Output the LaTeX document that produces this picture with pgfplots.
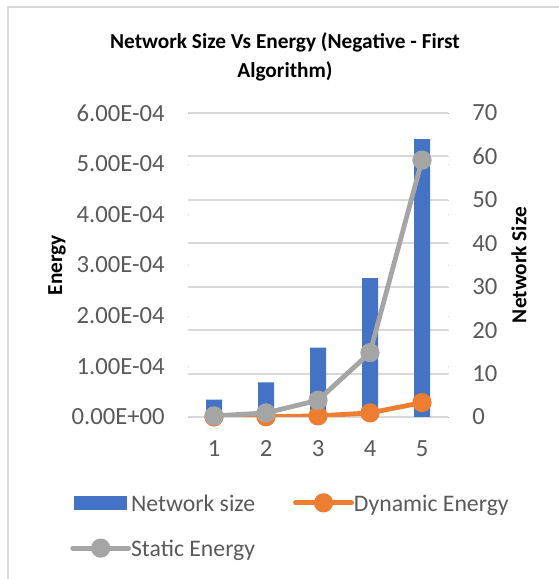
\documentclass[border=0pt]{standalone}
\usepackage{pgfplots}
\pgfplotsset{compat=1.18}
\usepackage{fontspec}
\setmainfont{Carlito}

\definecolor{barblue}{HTML}{4472C4}
\definecolor{dynorange}{HTML}{ED7D31}
\definecolor{statgray}{HTML}{A5A5A5}
\definecolor{textgray}{HTML}{595959}
\definecolor{gridgray}{HTML}{D9D9D9}

\pgfplotsset{
  plotbox/.style={
    at={(141pt,121.5pt)}, anchor=south west, scale only axis,
    width=195pt, height=228pt,
    xmin=0.5, xmax=5.5,
    tick align=inside, major tick length=0.01pt,
    /pgf/number format/assume math mode=true,
    tick label style={font=\fontsize{18.5pt}{22pt}\selectfont, text=textgray, inner sep=0pt},
  },
}

\begin{document}
\begin{tikzpicture}
\useasboundingbox (0,0) rectangle (418.5pt,434.25pt);
% chart area frame
\draw[gridgray, line width=1.5pt] (6pt,-5pt) -- (6pt,429pt) -- (425pt,429pt);

% network size bars on the secondary (right) axis; it also carries the gridlines
\begin{axis}[
  plotbox,
  ymin=0, ymax=70,
  x axis line style={draw=none}, y axis line style={draw=none},
  yticklabel pos=right,
  xtick={1,2,3,4,5}, ytick={0,10,20,30,40,50,60,70},
  yticklabel style={anchor=west, xshift=18pt},
  xticklabel style={anchor=north, yshift=-17.25pt},
  ylabel={Network Size},
  every axis y label/.style={at={(axis description cs:1.273,0.5)}, anchor=center, rotate=90,
    font=\bfseries\fontsize{16pt}{19pt}\selectfont},
  clip=false,
]
% horizontal gridlines, beneath the bars
\pgfplotsinvokeforeach{0,10,20,30,40,50,60,70}{
  \draw[draw=gridgray, line width=1.5pt] (axis cs:0.5,#1) -- (axis cs:5.5,#1);
}
\addplot[ybar, bar width=12pt, fill=barblue, draw=none]
  coordinates {(1,4) (2,8) (3,16) (4,32) (5,64)};
\end{axis}

% energy lines on the primary (left) axis
\begin{axis}[
  plotbox,
  ymin=0, ymax=0.0006,
  x axis line style={draw=none}, y axis line style={draw=none},
  yticklabel pos=left,
  xtick=\empty,
  ytick={0,0.0001,0.0002,0.0003,0.0004,0.0005,0.0006},
  yticklabels={0.00E+00,1.00E-04,2.00E-04,3.00E-04,4.00E-04,5.00E-04,6.00E-04},
  scaled y ticks=false,
  yticklabel style={anchor=east, xshift=-17.25pt},
  ylabel={Energy},
  every axis y label/.style={at={(axis description cs:-0.504,0.5)}, anchor=center, rotate=90,
    font=\bfseries\fontsize{16pt}{19pt}\selectfont},
  title={Network Size Vs Energy (Negative - First\\Algorithm)},
  title style={at={(axis description cs:0.373,1.158)}, anchor=center, align=center,
    font=\bfseries\fontsize{16pt}{21.2pt}\selectfont},
  legend columns=2,
  legend cell align=left,
  legend style={at={(axis description cs:-0.4538,-0.25)}, anchor=north west,
    draw=none, fill=none, inner sep=0pt, nodes={inner sep=0pt},
    font=\fontsize{17.8pt}{21pt}\selectfont, text=textgray,
    /tikz/every odd column/.append style={column sep=0pt},
    /tikz/every even column/.append style={column sep=28.5pt},
    row sep=19pt},
]
\addlegendimage{legend image code/.code={\fill[barblue] (1.5pt,-3.7pt) rectangle (40.5pt,6.1pt);}}
\addlegendentry{Network size}
\addplot[dynorange, line width=3.6pt, line join=round, line cap=round,
  mark=*, mark size=5.4pt, mark options={fill=dynorange, draw=none},
  legend image code/.code={\draw[dynorange, line width=3.6pt, line cap=round] (0pt,0.8pt) -- (42pt,0.8pt);
    \fill[dynorange] (21pt,0.8pt) circle (5.4pt);}]
  coordinates {(1,1e-7) (2,5e-7) (3,2.2e-6) (4,8e-6) (5,2.85e-5)};
\addlegendentry{Dynamic Energy}
\addplot[statgray, line width=3.6pt, line join=round, line cap=round,
  mark=*, mark size=5.4pt, mark options={fill=statgray, draw=none},
  legend image code/.code={\draw[statgray, line width=3.6pt, line cap=round] (0pt,0.8pt) -- (42pt,0.8pt);
    \fill[statgray] (21pt,0.8pt) circle (5.4pt);}]
  coordinates {(1,2.2e-6) (2,8e-6) (3,3.3e-5) (4,1.27e-4) (5,5.07e-4)};
\addlegendentry{Static Energy}
\end{axis}
\end{tikzpicture}
\end{document}
